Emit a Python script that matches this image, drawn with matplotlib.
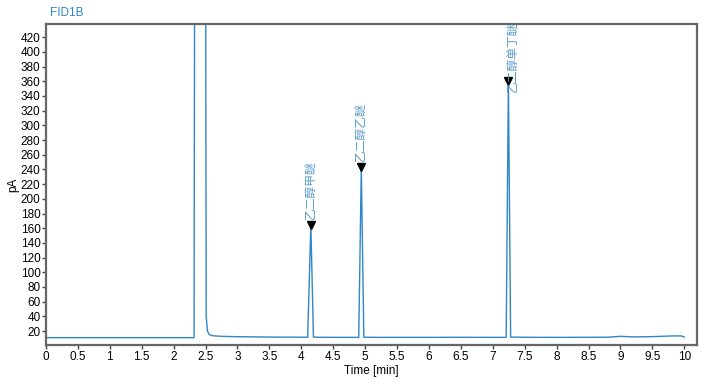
import matplotlib
matplotlib.use('Agg')
import matplotlib.pyplot as plt

plt.rcParams['font.family'] = ['Liberation Sans', 'Noto Sans CJK SC', 'DejaVu Sans']

# chromatogram trace (time in min, signal in pA)
trace_time = [0.0, 0.5, 1.0, 1.5, 2.0, 2.32, 2.33, 2.50, 2.51, 2.53, 2.56, 2.62, 2.75, 3.0, 3.5,
              4.0, 4.10, 4.15, 4.19, 4.3, 4.6, 4.90, 4.94, 4.98, 5.2, 6.0, 6.5, 7.0,
              7.21, 7.245, 7.28, 7.5, 8.0, 8.5, 8.8, 9.0, 9.2, 9.5, 9.8, 9.95, 10.0]
trace_pa = [11.0, 11.0, 11.0, 11.0, 11.0, 11.0, 600, 600, 40, 20, 15, 13.5, 12.8, 12.3, 11.8,
            11.6, 11.5, 165, 11.8, 11.5, 11.4, 11.4, 243, 11.6, 11.4, 11.4, 11.5, 11.4,
            11.4, 360, 11.8, 11.5, 11.4, 11.5, 11.6, 12.8, 12.0, 12.4, 13.3, 13.4, 12.0]

peak_names = ['乙二醇甲醚', '乙二醇乙醚', '乙二醇单丁醚']
peak_rt = [4.15, 4.94, 7.245]
peak_height = [165, 243, 360]

blue = '#2f86c8'
label_blue = '#5a9cc8'

fig = plt.figure(figsize=(7.11, 3.84), dpi=100)
ax = fig.add_axes([46 / 711, 39 / 384, 651 / 711, 321 / 384])

ax.plot(trace_time, trace_pa, color=blue, lw=1.0)

# peak markers and names
ax.plot(peak_rt, peak_height, linestyle='none', marker='v', color='black', markersize=5.5)
for i, name in enumerate(peak_names):
    if i == 2:
        # not enough room above the tallest peak, so the label is pushed aside
        ax.text(peak_rt[i] + 0.07, peak_height[i] - 15, name, rotation=90, ha='center', va='bottom',
                color=label_blue, fontsize=8.5, clip_on=False)
    else:
        ax.text(peak_rt[i], peak_height[i] + 8, name, rotation=90, ha='center', va='bottom',
                color=label_blue, fontsize=8.5)

ax.set_xlim(0, 10.2)
ax.set_ylim(1, 438)
ax.set_xticks([x / 2 for x in range(21)])
ax.set_xticklabels(['0', '0.5', '1', '1.5', '2', '2.5', '3', '3.5', '4', '4.5', '5',
                    '5.5', '6', '6.5', '7', '7.5', '8', '8.5', '9', '9.5', '10'])
ax.set_yticks(range(20, 421, 20))
ax.tick_params(labelsize=8.5, length=3, width=1, color='#444444', pad=1)

for side in ax.spines.values():
    side.set_color('#666666')
    side.set_linewidth(1.6)

ax.set_xlabel('Time [min]', fontsize=8.5, labelpad=2)
ax.set_ylabel('pA', fontsize=8.5, labelpad=1)
fig.text(50 / 711, 1 - 13 / 384, 'FID1B', color=blue, fontsize=8.5, va='center')

fig.savefig('out.png', dpi=100)
